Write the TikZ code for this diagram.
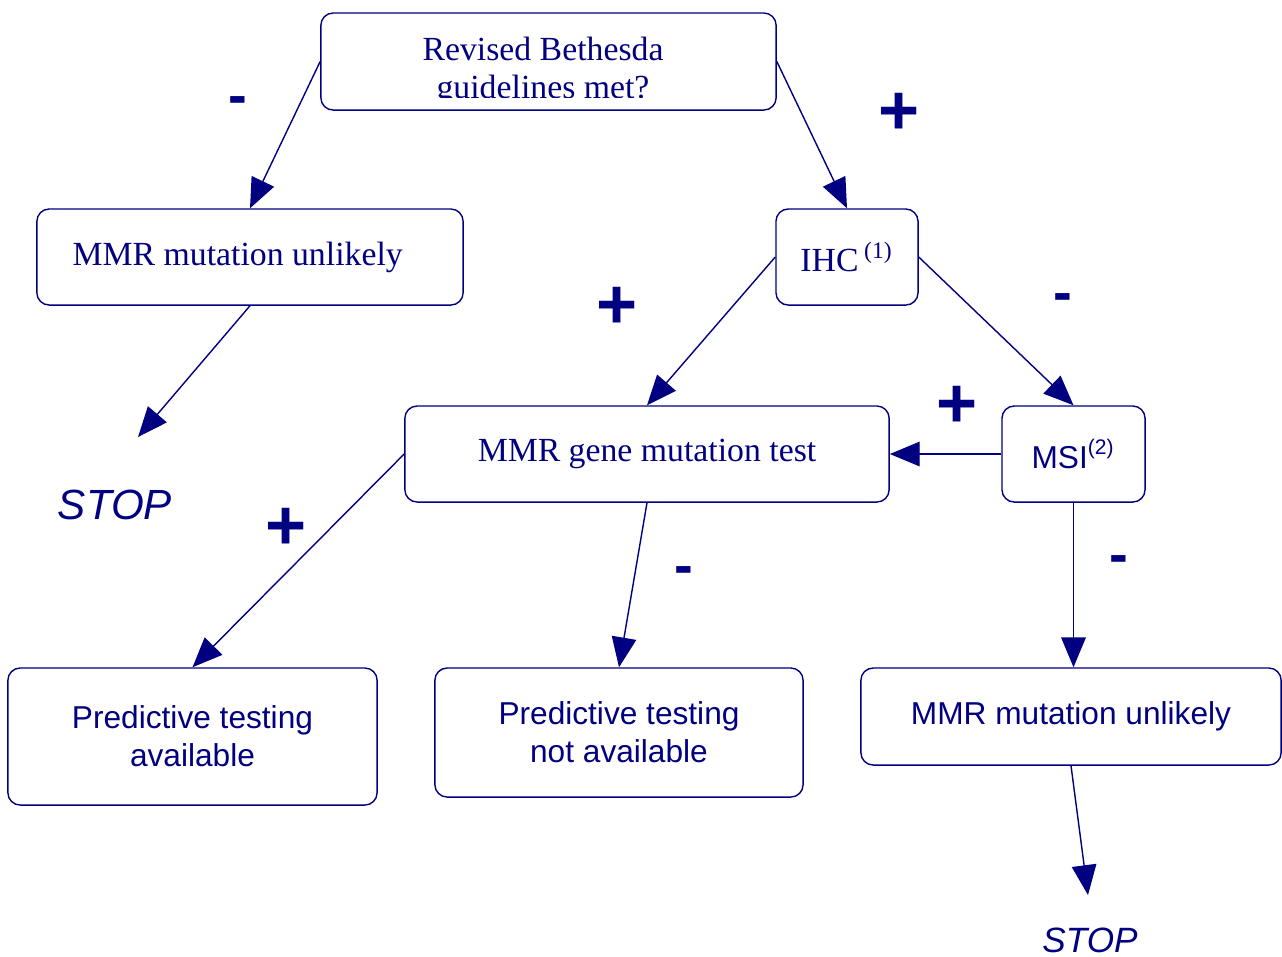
\documentclass[tikz,border=0pt]{standalone}
\usepackage{fontspec}
\setmainfont{Liberation Serif}
\setsansfont{Liberation Sans}
\usetikzlibrary{arrows.meta}
\definecolor{navy}{RGB}{0,0,128}

\begin{document}
\begin{tikzpicture}[x=0.01cm, y=-0.01cm,
    box/.style={draw=navy, rounded corners=3.5pt, line width=0.4pt, inner sep=0pt, text=navy},
    serif/.style={font=\fontsize{9.6}{10.8}\selectfont, align=center},
    sans/.style={font=\sffamily\fontsize{9}{10.8}\selectfont, align=center},
    arr/.style={draw=navy, line width=0.4pt, -{Triangle[length=8.5pt,width=7pt]}},
    plus/.style={text=navy, font=\sffamily\bfseries\fontsize{20}{20}\selectfont},
    minus/.style={text=navy, font=\sffamily\bfseries\fontsize{16}{16}\selectfont},
    stop/.style={text=navy, font=\sffamily\itshape}]
    \useasboundingbox (0,0) rectangle (1282,956);
    % boxes
    \node[box, minimum width=4.55cm, minimum height=0.97cm] (top) at (548.5,61.5) {};
    \begin{scope}
        \clip (321,13) rectangle (776,97);
        \node[serif, text=navy] (topq) at (543,71) {Revised Bethesda\\guidelines met?};
    \end{scope}
    \node[box, serif, minimum width=4.26cm, minimum height=0.96cm] (lft) at (250,257) {\raisebox{-3pt}{MMR mutation unlikely}\hspace*{7pt}};
    \node[box, serif, minimum width=1.42cm, minimum height=0.96cm] (ihc) at (847,257) {IHC\,\textsuperscript{(1)}};
    \node[box, serif, minimum width=4.84cm, minimum height=0.96cm] (gene) at (647,454) {MMR gene mutation test};
    \node[box, sans, minimum width=1.43cm, minimum height=0.96cm] (msi) at (1073.5,454) {MSI\textsuperscript{(2)}};
    \node[box, sans, minimum width=3.69cm, minimum height=1.37cm] (avail) at (192.5,736.5) {Predictive testing\\ available};
    \node[box, sans, minimum width=3.68cm, minimum height=1.29cm] (notav) at (619,732.5) {Predictive testing\\not available};
    \node[box, sans, minimum width=4.20cm, minimum height=0.97cm] (rgt) at (1071,716.5) {MMR mutation unlikely};
    \node[stop, font=\sffamily\itshape\fontsize{12}{12}\selectfont] (stopa) at (115,505) {STOP};
    \node[stop, font=\sffamily\itshape\fontsize{10}{10}\selectfont] (stopb) at (1090,940) {STOP};
    \coordinate (s1) at (138,437);
    \coordinate (s2) at (1088,895);
    % arrows
    \draw[arr] (top.west) -- (lft.north);
    \draw[arr] (top.east) -- (ihc.north);
    \draw[arr] (lft.south) -- (s1);
    \draw[arr] (ihc.west) -- (gene.north);
    \draw[arr] (ihc.east) -- (msi.north);
    \draw[arr] (msi.west) -- (gene.east);
    \draw[arr] (gene.west) -- (avail.north);
    \draw[arr] (gene.south) -- (notav.north);
    \draw[arr] (msi.south) -- (msi.south |- rgt.north);
    \draw[arr] (rgt.south) -- (s2);
    % signs
    \node[minus] (m1) at (238,106) {-};
    \node[plus] (p1) at (899,114) {+};
    \node[plus] (p2) at (617,308) {+};
    \node[minus] (m2) at (1063,303) {-};
    \node[plus] (p3) at (957,407) {+};
    \node[plus] (p4) at (286,529) {+};
    \node[minus] (m3) at (684,576) {-};
    \node[minus] (m4) at (1119,565) {-};
\end{tikzpicture}
\end{document}
